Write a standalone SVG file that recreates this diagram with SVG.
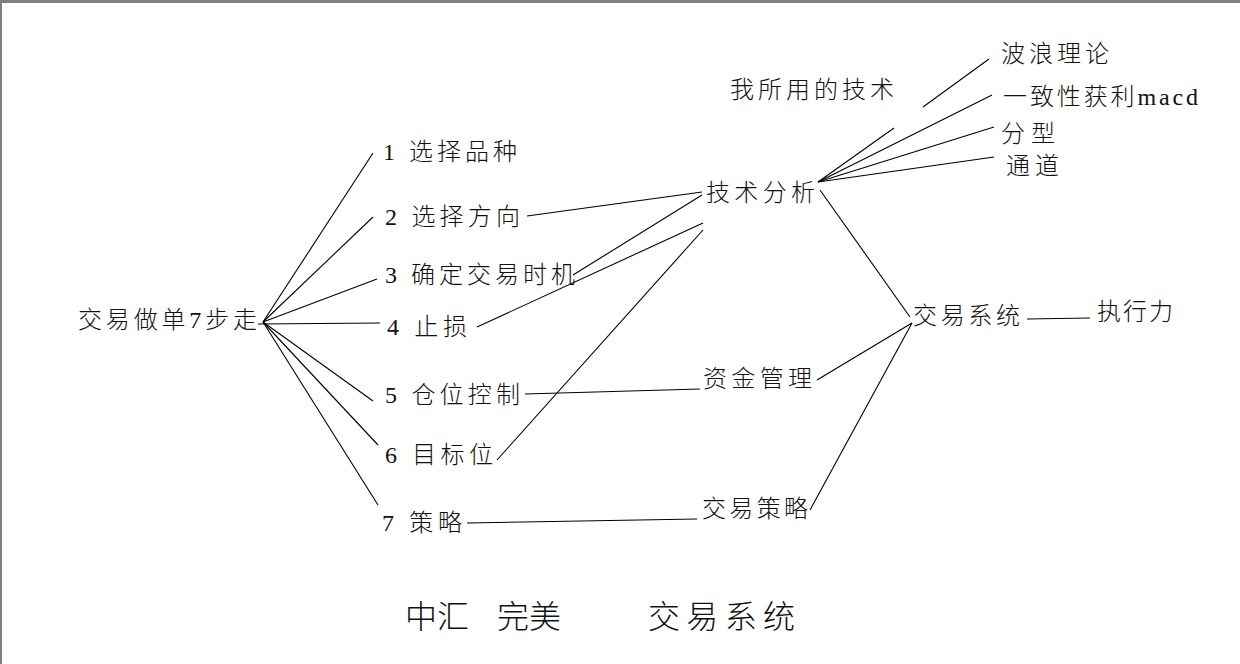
<svg xmlns="http://www.w3.org/2000/svg" width="1240" height="664" viewBox="0 0 1240 664">
<style>
.t{font-family:"Liberation Serif","Noto Sans CJK SC",serif;font-size:24px;font-weight:300;fill:#111}
.ttl{font-family:"Liberation Serif","Noto Sans CJK SC",serif;font-size:32px;font-weight:300;fill:#111}
.c line{stroke:#000;stroke-width:1.1;fill:none}
</style>
<rect x="0" y="0" width="1240" height="664" fill="#fff"/>
<rect x="0" y="0" width="1240" height="3" fill="#808080"/>
<rect x="0" y="0" width="2" height="664" fill="#808080"/>
<g id="connectors" class="c">
<line x1="263" y1="322" x2="373" y2="153"/>
<line x1="263" y1="322" x2="373" y2="217"/>
<line x1="263" y1="322" x2="377" y2="279"/>
<line x1="258" y1="324" x2="380" y2="323"/>
<line x1="263" y1="322" x2="373" y2="401"/>
<line x1="263" y1="322" x2="378" y2="445"/>
<line x1="263" y1="322" x2="378" y2="505"/>
<line x1="527" y1="216" x2="702" y2="192"/>
<line x1="573" y1="275" x2="702" y2="195"/>
<line x1="477" y1="327" x2="703" y2="223"/>
<line x1="497" y1="460" x2="703" y2="230"/>
<line x1="525" y1="394" x2="700" y2="389"/>
<line x1="467" y1="523" x2="697" y2="519"/>
<line x1="820" y1="190" x2="910" y2="317"/>
<line x1="817" y1="380" x2="912" y2="323"/>
<line x1="810" y1="510" x2="912" y2="323"/>
<line x1="1027" y1="319" x2="1090" y2="318"/>
<line x1="818" y1="182" x2="894" y2="128"/>
<line x1="923" y1="107" x2="989" y2="59"/>
<line x1="818" y1="182" x2="992" y2="95"/>
<line x1="818" y1="182" x2="994" y2="127"/>
<line x1="818" y1="182" x2="994" y2="157"/>
</g>
<g id="hub"><text class="t" x="78" y="328" textLength="179" lengthAdjust="spacing">交易做单7步走</text></g>
<g id="step1"><text class="t" x="383" y="160" textLength="134" lengthAdjust="spacing">1 选择品种</text></g>
<g id="step2"><text class="t" x="385" y="225" textLength="135" lengthAdjust="spacing">2 选择方向</text></g>
<g id="step3"><text class="t" x="385" y="283" textLength="190" lengthAdjust="spacing">3 确定交易时机</text></g>
<g id="step4"><text class="t" x="387" y="335" textLength="80" lengthAdjust="spacing">4 止损</text></g>
<g id="step5"><text class="t" x="385" y="403" textLength="135" lengthAdjust="spacing">5 仓位控制</text></g>
<g id="step6"><text class="t" x="385" y="463" textLength="108" lengthAdjust="spacing">6 目标位</text></g>
<g id="step7"><text class="t" x="382" y="531" textLength="80" lengthAdjust="spacing">7 策略</text></g>
<g id="tech"><text class="t" x="706" y="201" textLength="109" lengthAdjust="spacing">技术分析</text></g>
<g id="mytech"><text class="t" x="730" y="98" textLength="164" lengthAdjust="spacing">我所用的技术</text></g>
<g id="wave"><text class="t" x="1001" y="62" textLength="108" lengthAdjust="spacing">波浪理论</text></g>
<g id="macd"><text class="t" x="1003" y="105" textLength="195" lengthAdjust="spacing">一致性获利macd</text></g>
<g id="fractal"><text class="t" x="1001" y="142" textLength="54" lengthAdjust="spacing">分型</text></g>
<g id="channel"><text class="t" x="1006" y="174" textLength="53" lengthAdjust="spacing">通道</text></g>
<g id="system"><text class="t" x="913" y="324" textLength="107" lengthAdjust="spacing">交易系统</text></g>
<g id="exec"><text class="t" x="1097" y="320" textLength="76" lengthAdjust="spacing">执行力</text></g>
<g id="money"><text class="t" x="703" y="387" textLength="109" lengthAdjust="spacing">资金管理</text></g>
<g id="strategy"><text class="t" x="702" y="517" textLength="106" lengthAdjust="spacing">交易策略</text></g>
<g id="title"><text class="ttl" y="628"><tspan x="405">中汇 </tspan><tspan x="497">完美 </tspan><tspan x="648" textLength="147" lengthAdjust="spacing">交易系统</tspan></text></g>
</svg>
